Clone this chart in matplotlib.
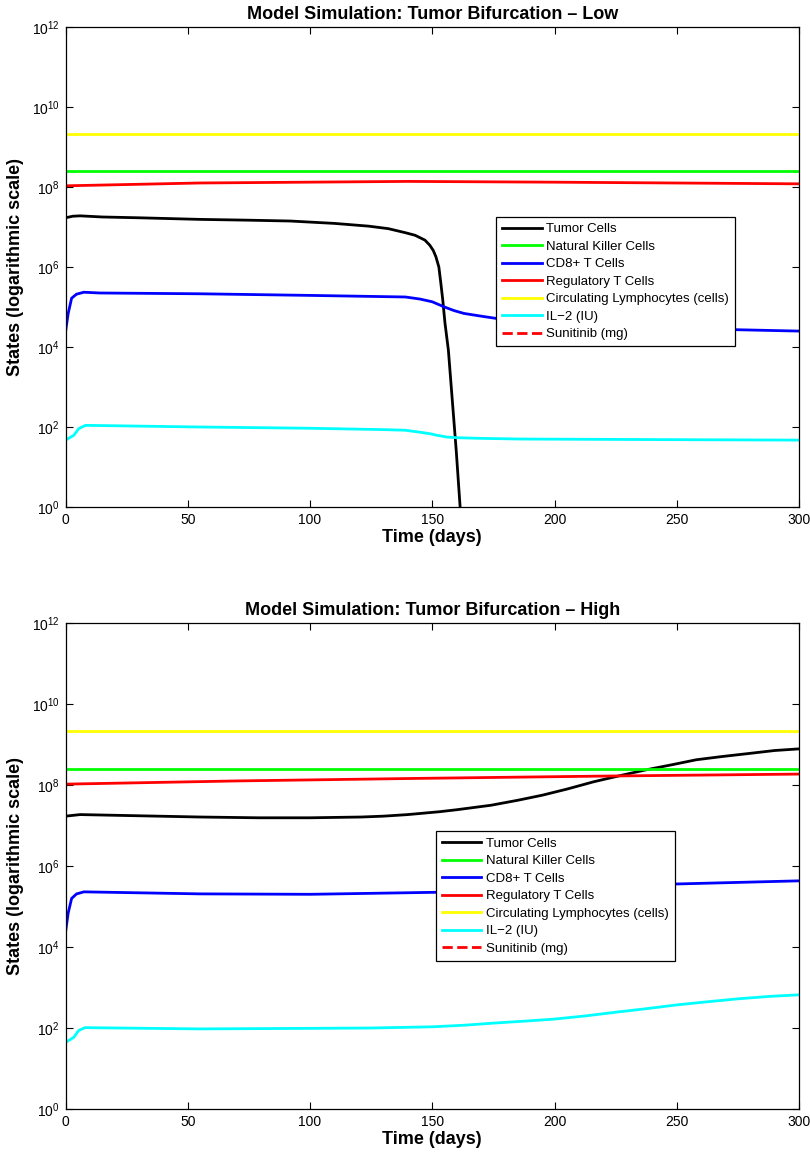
import matplotlib
matplotlib.use('Agg')
import matplotlib.pyplot as plt

plt.rcParams['font.family'] = ['Liberation Sans', 'DejaVu Sans']
plt.rcParams['mathtext.fontset'] = 'custom'
plt.rcParams['mathtext.rm'] = 'Liberation Sans'
plt.rcParams['mathtext.it'] = 'Liberation Sans:italic'
plt.rcParams['mathtext.bf'] = 'Liberation Sans:bold'

series_names = ['Tumor Cells', 'Natural Killer Cells', 'CD8+ T Cells', 'Regulatory T Cells',
                'Circulating Lymphocytes (cells)', 'IL\u22122 (IU)', 'Sunitinib (mg)']
titles = ['Model Simulation: Tumor Bifurcation \u2013 Low',
          'Model Simulation: Tumor Bifurcation \u2013 High']
x_ticks = [0, 50, 100, 150, 200, 250, 300]

# constant populations (both panels)
t_const = [0, 300]
nk_cells = [2.45e8, 2.45e8]
lymph_cells = [2.1e9, 2.1e9]
sunitinib = [0, 0]

# ---- Low ----
low_t_tumor = [0, 3, 6, 15, 30, 55, 75, 92, 110, 124, 132, 139, 143, 147, 149, 150.4, 151.5,
               152.7, 153.5, 154.3, 155.2, 156.6, 159.8, 161.4, 163]
low_tumor = [1.7e7, 1.86e7, 1.9e7, 1.78e7, 1.7e7, 1.55e7, 1.48e7, 1.41e7, 1.23e7, 1.05e7, 9.1e6,
             7.2e6, 6.2e6, 4.7e6, 3.5e6, 2.6e6, 1.8e6, 1.0e6, 4.0e5, 1.5e5, 4.0e4, 8.3e3, 26,
             1.0, 0.1]
low_t_cd8 = [0, 1.1, 2.5, 4.5, 7.5, 14, 55, 100, 139, 145, 150, 155, 159, 163, 170, 176, 200,
             225, 250, 275, 300]
low_cd8 = [2.37e4, 6.9e4, 1.66e5, 2.09e5, 2.34e5, 2.24e5, 2.14e5, 1.95e5, 1.78e5, 1.58e5, 1.35e5,
           1.0e5, 8.1e4, 6.9e4, 5.9e4, 5.2e4, 4.0e4, 3.3e4, 2.95e4, 2.7e4, 2.5e4]
low_t_treg = [0, 55, 140, 200, 300]
low_treg = [1.07e8, 1.26e8, 1.38e8, 1.32e8, 1.2e8]
low_t_il2 = [0, 3.4, 5.4, 8.2, 55, 100, 130, 139, 145, 149, 152, 156, 160, 170, 186, 259, 300]
low_il2 = [47, 62, 91, 110, 100, 93, 86, 83, 74, 68, 62, 56, 54, 52, 50, 48, 47]

# ---- High ----
high_t_tumor = [0, 6, 55, 79, 100, 121, 130, 140, 153, 160, 174, 185, 195, 205, 216, 226, 237,
                248, 258, 268, 279.5, 290, 300]
high_tumor = [1.7e7, 1.86e7, 1.62e7, 1.55e7, 1.55e7, 1.62e7, 1.7e7, 1.86e7, 2.19e7, 2.45e7,
              3.16e7, 4.2e7, 5.6e7, 7.9e7, 1.2e8, 1.66e8, 2.34e8, 3.16e8, 4.2e8, 5.0e8, 6.0e8,
              7.1e8, 7.8e8]
high_t_cd8 = [0, 1.1, 2.5, 4.5, 7.5, 55, 100, 151, 200, 250, 300]
high_cd8 = [2.3e4, 6.9e4, 1.58e5, 2.04e5, 2.3e5, 2.05e5, 2.0e5, 2.24e5, 2.8e5, 3.6e5, 4.3e5]
high_t_treg = [0, 70, 142, 220, 300]
high_treg = [1.05e8, 1.26e8, 1.45e8, 1.66e8, 1.86e8]
high_t_il2 = [0, 3.4, 5.4, 8, 55, 100, 125, 150, 163, 175, 188, 200, 213, 225, 238, 250, 263,
              275, 288, 300]
high_il2 = [44, 59, 87, 102, 95, 98, 100, 107, 117, 132, 148, 166, 200, 245, 302, 372, 447,
            525, 603, 660]

panels = [
    (low_t_tumor, low_tumor, low_t_cd8, low_cd8, low_t_treg, low_treg, low_t_il2, low_il2),
    (high_t_tumor, high_tumor, high_t_cd8, high_cd8, high_t_treg, high_treg, high_t_il2, high_il2),
]
legend_anchor = [(0.587, 0.604), (0.505, 0.571)]

W, H = 810, 1152
fig = plt.figure(figsize=(8.1, 11.52), dpi=100)
ax_top = fig.add_axes([65.5 / W, (H - 507) / H, 733.5 / W, 480 / H])
ax_bot = fig.add_axes([65.5 / W, (H - 1109) / H, 733.5 / W, 486 / H])

lw = 2.0
for ax, data, title, anchor in zip([ax_top, ax_bot], panels, titles, legend_anchor):
    tt, tumor, tc, cd8, tr, treg, ti, il2 = data
    ax.set_yscale('log', nonpositive='mask')
    ax.plot(tt, tumor, color='black', lw=lw, label=series_names[0])
    ax.plot(t_const, nk_cells, color=(0, 1, 0), lw=lw, label=series_names[1])
    ax.plot(tc, cd8, color=(0, 0, 1), lw=lw, label=series_names[2])
    ax.plot(tr, treg, color=(1, 0, 0), lw=lw, label=series_names[3])
    ax.plot(t_const, lymph_cells, color=(1, 1, 0), lw=lw, label=series_names[4])
    ax.plot(ti, il2, color=(0, 1, 1), lw=lw, label=series_names[5])
    ax.plot(t_const, sunitinib, color=(1, 0, 0), lw=lw, ls='--', label=series_names[6])

    ax.set_xlim(0, 300)
    ax.set_ylim(1, 1e12)
    ax.set_xticks(x_ticks)
    ax.set_yticks([10.0 ** k for k in range(0, 13, 2)])
    ax.minorticks_off()
    ax.tick_params(direction='in', top=True, right=True, length=5, width=0.8,
                   labelsize=10, pad=4)
    for s in ax.spines.values():
        s.set_linewidth(0.9)

    ax.set_title(title, fontsize=13, fontweight='bold', pad=6)
    ax.set_xlabel('Time (days)', fontsize=13, fontweight='bold', labelpad=2)
    ax.set_ylabel('States (logarithmic scale)', fontsize=13, fontweight='bold', labelpad=6)

    leg = ax.legend(loc='upper left', bbox_to_anchor=anchor, borderaxespad=0, fontsize=9.5,
                    handlelength=3.0, handletextpad=0.35, labelspacing=0.4, borderpad=0.45,
                    fancybox=False, framealpha=1, edgecolor='black')
    leg.get_frame().set_linewidth(0.9)

fig.savefig('out.png', dpi=100)
